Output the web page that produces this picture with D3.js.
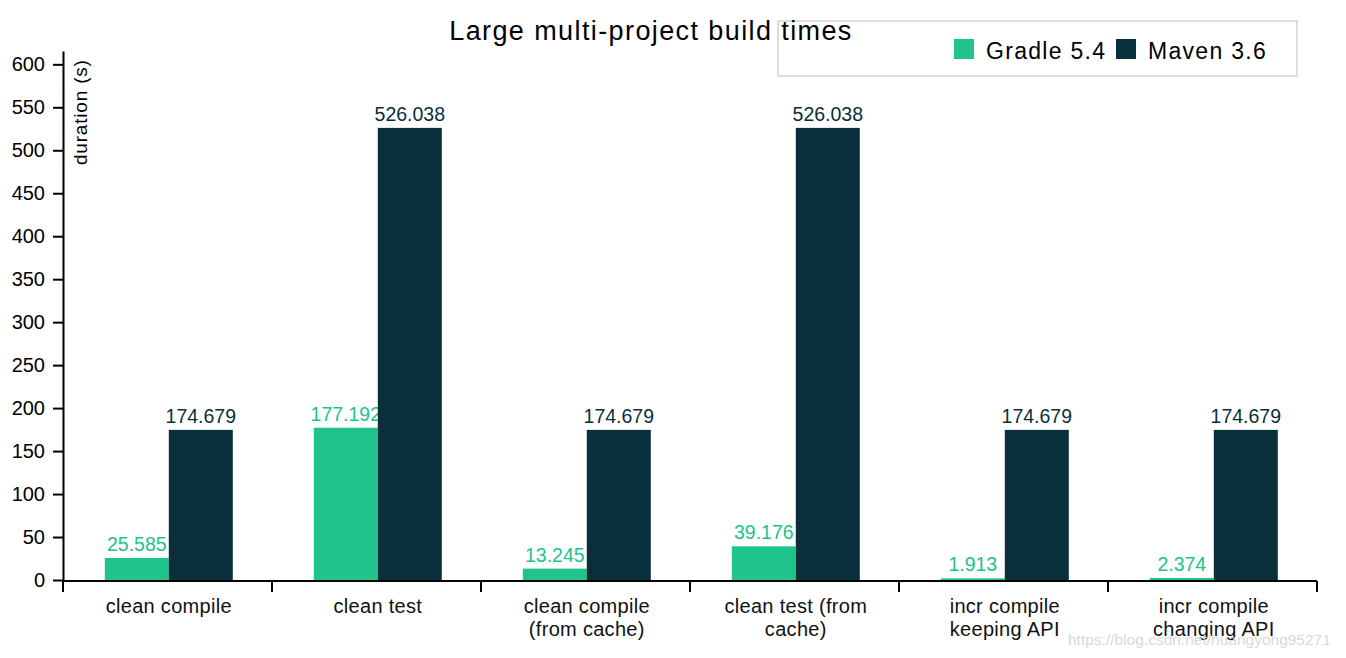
<!DOCTYPE html>
<html><head><meta charset="utf-8">
<script src="https://cdn.jsdelivr.net/npm/d3@7"></script>
<style>
body{margin:0;background:#fff;}
text{font-family:"Liberation Sans",Arial,sans-serif;}
</style></head>
<body><svg id="c" width="1346" height="658"></svg>
<script>
const categories = [["clean compile"],["clean test"],["clean compile","(from cache)"],["clean test (from","cache)"],["incr compile","keeping API"],["incr compile","changing API"]];
const seriesNames = ["Gradle 5.4","Maven 3.6"];
const gradle = [25.585,177.192,13.245,39.176,1.913,2.374];
const maven = [174.679,526.038,174.679,526.038,174.679,174.679];
const yTicks = [0,50,100,150,200,250,300,350,400,450,500,550,600];
const colors = ["#20c38b","#082f3a"];

const svg = d3.select("#c");
const pLeft=63, pRight=1317, pBottom=580, pTop=51;
const ids = categories.map((d,i)=>i);
const x0 = d3.scaleBand().domain(ids).range([pLeft,pRight]).padding(0);
const bw = x0.bandwidth();
const x1 = d3.scaleBand().domain([0,1]).range([bw*0.2, bw*0.2+bw*0.6124]).padding(0);
const y = d3.scaleLinear().domain([0,615.5]).range([pBottom,pTop]);

// legend (drawn before title, title overlaps it)
svg.append("rect").attr("x",778).attr("y",21).attr("width",519).attr("height",55)
  .attr("fill","#fff").attr("stroke","#ddd").attr("stroke-width",2);
const legX=[954,1116];
seriesNames.forEach((n,s)=>{
  svg.append("rect").attr("x",legX[s]).attr("y",39).attr("width",20).attr("height",20).attr("fill",colors[s]);
  svg.append("text").attr("x",legX[s]+32).attr("y",59).attr("font-size",23).attr("letter-spacing",1.3)
    .attr("fill","#000").text(n);
});

// title
svg.append("text").attr("x",651).attr("y",40).attr("text-anchor","middle")
  .attr("font-size",27).attr("letter-spacing",1.4).attr("fill","#000").text("Large multi-project build times");

// y axis
const ya = svg.append("g").attr("transform",`translate(${pLeft},0)`)
  .call(d3.axisLeft(y).tickValues(yTicks).tickSize(10).tickSizeOuter(0));
ya.selectAll("path,line").attr("stroke","#000").attr("stroke-width",2);
ya.selectAll("text").attr("font-size",20).attr("fill","#000").attr("x",-18).attr("font-family","Liberation Sans");

// x axis
const xa = svg.append("g").attr("transform",`translate(0,${pBottom+1})`);
xa.append("line").attr("x1",pLeft).attr("x2",pRight).attr("stroke","#000").attr("stroke-width",2);
const bounds = ids.map(i=>x0(i)).concat([x0(ids.length-1)+bw]);
xa.selectAll("line.t").data(bounds).enter().append("line").attr("class","t")
  .attr("x1",d=>d).attr("x2",d=>d).attr("y1",0).attr("y2",11).attr("stroke","#000").attr("stroke-width",2);
const lab = xa.selectAll("text.c").data(categories).enter().append("text").attr("class","c")
  .attr("text-anchor","middle").attr("font-size",20).attr("letter-spacing",0.3).attr("fill","#111")
  .attr("transform",(d,i)=>`translate(${x0(i)+bw*0.2+bw*0.3062},0)`);
lab.selectAll("tspan").data(d=>d).enter().append("tspan")
  .attr("x",0).attr("y",(d,j)=>32+j*23).text(d=>d);

// bars
const series=[gradle,maven];
series.forEach((vals,s)=>{
  const g = svg.append("g");
  g.selectAll("rect").data(vals).enter().append("rect")
    .attr("x",(d,i)=>x0(i)+x1(s)).attr("width",x1.bandwidth())
    .attr("y",d=>y(d)).attr("height",d=>pBottom-y(d)).attr("fill",colors[s]);
  g.selectAll("text").data(vals).enter().append("text")
    .attr("x",(d,i)=>x0(i)+x1(s)+x1.bandwidth()/2).attr("y",d=>y(d)-7)
    .attr("text-anchor","middle").attr("font-size",19.5).attr("fill",colors[s])
    .text(d=>d3.format(".3f")(d));
});

// y label
svg.append("text").attr("transform","translate(87,165) rotate(-90)")
  .attr("font-size",19).attr("letter-spacing",0.8).attr("fill","#000").text("duration (s)");

// watermark
svg.append("text").attr("x",1068).attr("y",645).attr("font-size",15.5).attr("fill","#d9d9d9")
  .text("https://blog.csdn.net/huangyong95271");
</script></body></html>
